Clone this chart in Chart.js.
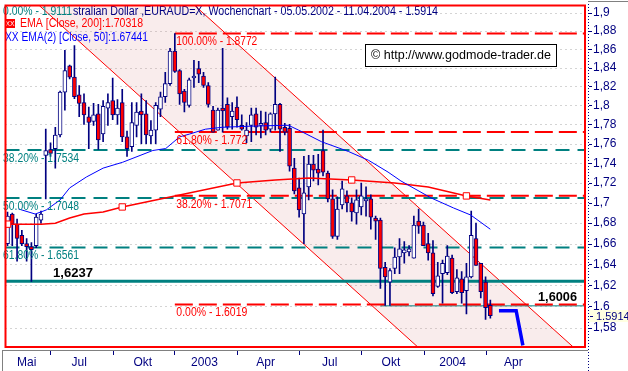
<!DOCTYPE html>
<html>
<head>
<meta charset="utf-8">
<script src="https://cdn.jsdelivr.net/npm/chart.js@4.4.1/dist/chart.umd.min.js"></script>
<style>
  html, body { margin: 0; padding: 0; background: #fff; }
  canvas { display: block; }
</style>
</head>
<body>
<canvas id="chart" width="628" height="371"></canvas>
<script>
// Weekly EUR/AUD candles, 05.05.2002 - 11.04.2004 (x = week number)
const opens = [1.660, 1.689, 1.679, 1.668, 1.660, 1.657, 1.658, 1.683, 1.748, 1.754,
  1.755, 1.769, 1.814, 1.842, 1.830, 1.811, 1.803, 1.788, 1.783, 1.791,
  1.770, 1.797, 1.805, 1.790, 1.803, 1.767, 1.757, 1.779, 1.794, 1.791,
  1.768, 1.774, 1.796, 1.809, 1.823, 1.858, 1.837, 1.815, 1.800, 1.829,
  1.839, 1.831, 1.821, 1.795, 1.774, 1.797, 1.801, 1.788, 1.798, 1.779,
  1.768, 1.779, 1.791, 1.779, 1.782, 1.775, 1.791, 1.801, 1.777, 1.776,
  1.735, 1.715, 1.689, 1.716, 1.739, 1.734, 1.753, 1.730, 1.704, 1.667,
  1.698, 1.707, 1.700, 1.690, 1.696, 1.702, 1.704, 1.685, 1.683, 1.637,
  1.623, 1.636, 1.647, 1.651, 1.652, 1.646, 1.682, 1.678, 1.660, 1.651,
  1.619, 1.631, 1.632, 1.646, 1.614, 1.626, 1.615, 1.628, 1.665, 1.641,
  1.623, 1.601];
const highs = [1.691, 1.690, 1.684, 1.673, 1.665, 1.661, 1.689, 1.692, 1.775, 1.761,
  1.777, 1.815, 1.859, 1.843, 1.864, 1.821, 1.812, 1.798, 1.802, 1.801,
  1.805, 1.812, 1.829, 1.806, 1.817, 1.773, 1.803, 1.803, 1.812, 1.805,
  1.784, 1.803, 1.814, 1.835, 1.861, 1.8772, 1.838, 1.817, 1.829, 1.848,
  1.847, 1.835, 1.824, 1.799, 1.797, 1.861, 1.808, 1.803, 1.809, 1.790,
  1.782, 1.797, 1.797, 1.794, 1.793, 1.792, 1.830, 1.802, 1.781, 1.780,
  1.745, 1.725, 1.747, 1.748, 1.748, 1.749, 1.774, 1.732, 1.713, 1.706,
  1.722, 1.712, 1.705, 1.713, 1.720, 1.716, 1.708, 1.687, 1.685, 1.642,
  1.636, 1.656, 1.665, 1.662, 1.658, 1.687, 1.694, 1.681, 1.670, 1.663,
  1.642, 1.644, 1.658, 1.649, 1.635, 1.633, 1.641, 1.692, 1.680, 1.641,
  1.628, 1.606];
const lows = [1.658, 1.658, 1.643, 1.658, 1.643, 1.6237, 1.656, 1.680, 1.704, 1.747,
  1.735, 1.767, 1.795, 1.828, 1.807, 1.788, 1.780, 1.755, 1.779, 1.754,
  1.762, 1.779, 1.785, 1.780, 1.762, 1.747, 1.752, 1.767, 1.760, 1.760,
  1.760, 1.760, 1.788, 1.803, 1.821, 1.835, 1.801, 1.793, 1.798, 1.819,
  1.824, 1.819, 1.798, 1.772, 1.774, 1.772, 1.775, 1.775, 1.777, 1.774,
  1.761, 1.762, 1.769, 1.766, 1.769, 1.772, 1.774, 1.752, 1.769, 1.732,
  1.709, 1.686, 1.660, 1.703, 1.722, 1.718, 1.727, 1.701, 1.665, 1.664,
  1.694, 1.691, 1.682, 1.679, 1.688, 1.687, 1.674, 1.664, 1.617, 1.601,
  1.601, 1.631, 1.631, 1.641, 1.648, 1.646, 1.670, 1.658, 1.644, 1.610,
  1.618, 1.603, 1.630, 1.612, 1.612, 1.603, 1.593, 1.627, 1.639, 1.608,
  1.588, 1.589];
const closes = [1.687, 1.679, 1.665, 1.660, 1.657, 1.654, 1.686, 1.689, 1.753, 1.750,
  1.769, 1.814, 1.837, 1.830, 1.809, 1.802, 1.790, 1.782, 1.790, 1.764,
  1.799, 1.803, 1.790, 1.797, 1.767, 1.755, 1.782, 1.793, 1.790, 1.769,
  1.774, 1.800, 1.809, 1.823, 1.858, 1.836, 1.812, 1.803, 1.827, 1.831,
  1.833, 1.821, 1.801, 1.772, 1.795, 1.794, 1.777, 1.794, 1.785, 1.775,
  1.774, 1.790, 1.777, 1.781, 1.774, 1.791, 1.801, 1.775, 1.772, 1.737,
  1.712, 1.693, 1.710, 1.739, 1.733, 1.730, 1.731, 1.704, 1.667, 1.694,
  1.714, 1.700, 1.691, 1.703, 1.707, 1.704, 1.686, 1.682, 1.636, 1.628,
  1.634, 1.647, 1.655, 1.654, 1.655, 1.678, 1.677, 1.658, 1.651, 1.612,
  1.629, 1.641, 1.648, 1.613, 1.627, 1.613, 1.628, 1.668, 1.639, 1.614,
  1.599, 1.5914];

// EMA 200 (red, square markers) and EMA 50 (blue)
const ema200Weeks = [0, 7, 10, 13, 16, 20, 24, 35, 48, 56, 63, 72, 81, 88, 96, 101];
const ema200Values = [1.679, 1.679, 1.680, 1.685, 1.689, 1.691, 1.696, 1.707, 1.720, 1.723, 1.725, 1.723, 1.720, 1.716, 1.707, 1.703];
const ema200Marks = [0, 24, 48, 72, 96];
const ema50Weeks = [2.3, 5.8, 8.1, 11, 13, 16.5, 20, 24.1, 30.4, 33.1, 36, 38.1, 41.4, 44.9, 50.1, 57.4, 58.8, 60.9, 65.7, 71.3, 75.5, 79.6, 82.3, 88.6, 93.3, 96.9, 101];
const ema50Values = [1.694, 1.689, 1.693, 1.703, 1.715, 1.726, 1.735, 1.741, 1.753, 1.755, 1.767, 1.770, 1.775, 1.777, 1.778, 1.779, 1.779, 1.774, 1.762, 1.752, 1.743, 1.731, 1.722, 1.705, 1.695, 1.688, 1.674];

// projection arrow (thick blue)
const projWeeks = [102.8, 106.4, 107.8];
const projValues = [1.596, 1.596, 1.564];

// falling trend channel
const channelWeeks = [6, 121];
const channelUpper = [2.075, 1.552];
const channelLower = [1.9114, 1.4297];

// Fibonacci levels
const fibRedStart = 35;
const fibRedValues = [1.8772, 1.772, 1.7071, 1.6019];
const fibRedLabels = ['100.00% - 1.8772', '61.80% - 1.772', '38.20% - 1.7071', '0.00% - 1.6019'];
const fibTealValues = [1.9111, 1.7534, 1.7048, 1.6561];
const fibTealLabels = ['0.00% - 1.9111', '38.20% - 1.7534', '50.00% - 1.7048', '61.80% - 1.6561'];
const supportValue = 1.6237;
const supportLabel = '1,6237';
const lowLineStart = 78;
const lowLineValue = 1.6006;
const lowLineLabel = '1,6006';
const lastClose = 1.5914;

// axes
const yTicks = [1.58, 1.6, 1.62, 1.64, 1.66, 1.68, 1.7, 1.72, 1.74, 1.76, 1.78, 1.8, 1.82, 1.84, 1.86, 1.88, 1.9];
const xLabels = ['Mai', 'Jul', 'Okt', '2003', 'Apr', 'Jul', 'Okt', '2004', 'Apr'];
const xLabelWeeks = [4.0, 15.0, 28.3, 41.2, 54.0, 67.4, 80.2, 93.1, 105.8];
const xTickWeeks = [8.9, 22.0, 34.9, 48.0, 60.9, 74.0, 87.1, 100.0];

const NAVY = '#000080', RED = '#ff0000', TEAL = '#008080', BLUE = '#0000ff';
const FONT = '"Liberation Sans", Arial, sans-serif';
const xMin = -0.42, xMax = 120.8;
const yMin = 1.5625, yMax = 1.9083;

Chart.defaults.font.family = FONT;

function pts(xs, ys) {
    return xs.map((x, i) => ({ x: x, y: ys[i] }));
}

// text squeezed to the width it has in the picture (narrow screen font)
function label(ctx, str, x, y, width, font, color) {
    ctx.save();
    ctx.font = font;
    ctx.fillStyle = color;
    ctx.textBaseline = 'middle';
    ctx.translate(x, y);
    if (width) ctx.scale(width / ctx.measureText(str).width, 1);
    ctx.fillText(str, 0, 0);
    ctx.restore();
}

const weeks = opens.map((_, i) => i);
const datasets = [];

// channel with shaded band
datasets.push({
    type: 'line', data: pts(channelWeeks, channelUpper), borderColor: RED, borderWidth: 1,
    pointRadius: 0, fill: '+1', backgroundColor: 'rgba(220,150,150,0.18)', order: 20
});
datasets.push({
    type: 'line', data: pts(channelWeeks, channelLower), borderColor: RED, borderWidth: 1,
    pointRadius: 0, fill: false, order: 19
});

// horizontal levels
fibTealValues.forEach(v => {
    datasets.push({
        type: 'line', data: pts([xMin, xMax], [v, v]), borderColor: TEAL, borderWidth: 2,
        borderDash: [14, 8], pointRadius: 0, fill: false, order: 11
    });
});
fibRedValues.forEach(v => {
    datasets.push({
        type: 'line', data: pts([fibRedStart, xMax], [v, v]), borderColor: RED, borderWidth: 2,
        borderDash: [18, 6], pointRadius: 0, fill: false, order: 10
    });
});
datasets.push({
    type: 'line', data: pts([lowLineStart, xMax], [lowLineValue, lowLineValue]), borderColor: TEAL,
    borderWidth: 1, pointRadius: 0, fill: false, order: 12
});
datasets.push({
    type: 'line', data: pts([xMin, xMax], [supportValue, supportValue]), borderColor: TEAL,
    borderWidth: 3, pointRadius: 0, fill: false, order: 9
});

// candles: wick + body as floating bars
datasets.push({
    type: 'bar', data: weeks.map(i => ({ x: i, y: [lows[i], highs[i]] })),
    backgroundColor: NAVY, borderWidth: 0, barThickness: 1, grouped: false, order: 6
});
datasets.push({
    type: 'bar',
    data: weeks.map(i => ({ x: i, y: [Math.min(opens[i], closes[i]), Math.max(opens[i], closes[i])] })),
    backgroundColor: ctx => closes[ctx.dataIndex] >= opens[ctx.dataIndex] ? '#ffffff' : RED,
    borderColor: NAVY, borderWidth: 1, borderSkipped: false, barThickness: 4, minBarLength: 2,
    grouped: false, order: 5
});

// moving averages
datasets.push({
    type: 'line', data: pts(ema200Weeks, ema200Values), borderColor: RED, borderWidth: 1.5,
    pointStyle: 'rect',
    pointRadius: ctx => ema200Marks.includes(ema200Weeks[ctx.dataIndex]) ? 4.5 : 0,
    pointBackgroundColor: '#ffffff', pointBorderColor: RED, pointBorderWidth: 1,
    fill: false, order: 3
});
datasets.push({
    type: 'line', data: pts(ema50Weeks, ema50Values), borderColor: BLUE, borderWidth: 1,
    pointRadius: 0, fill: false, order: 2
});
datasets.push({
    type: 'line', data: pts(projWeeks, projValues), borderColor: BLUE, borderWidth: 3.5,
    pointRadius: 0, fill: false, order: 1
});

const decorations = {
    id: 'decorations',
    beforeDatasetsDraw(chart) {
        const { ctx, chartArea: a, scales: { y } } = chart;
        ctx.save();
        ctx.strokeStyle = '#a8a8a8';
        ctx.lineWidth = 1;
        ctx.setLineDash([1, 4]);
        yTicks.forEach(v => {
            const py = Math.round(y.getPixelForValue(v)) + 0.5;
            ctx.beginPath();
            ctx.moveTo(a.left, py);
            ctx.lineTo(a.right, py);
            ctx.stroke();
        });
        ctx.restore();
    },
    afterDraw(chart) {
        const { ctx, chartArea: a, scales: { x, y } } = chart;
        const f11 = '11px ' + FONT, f12 = '12px ' + FONT, b12 = 'bold 12px ' + FONT;

        // level labels
        const redX = x.getPixelForValue(fibRedStart) + 1.5;
        const redWidths = [81, 71, 76, 71];
        fibRedValues.forEach((v, i) => label(ctx, fibRedLabels[i], redX, y.getPixelForValue(v) + 8.5, redWidths[i], f12, RED));
        const tealWidths = [69, 76, 76, 76];
        fibTealValues.forEach((v, i) => {
            const ly = Math.max(y.getPixelForValue(v) + 8.5, 6.5);
            label(ctx, fibTealLabels[i], 3, ly, tealWidths[i], f12, TEAL);
        });
        label(ctx, supportLabel, 53, y.getPixelForValue(supportValue) - 7.5, 40, b12, '#000000');
        label(ctx, lowLineLabel, 538, y.getPixelForValue(lowLineValue) - 8.5, 39, b12, '#000000');

        // title, partly hidden behind the first label
        const title = 'Australian Dollar ,EURAUD=X, Wochenchart - 05.05.2002 - 11.04.2004 - 1.5914';
        ctx.save();
        ctx.font = f12;
        const sx = 365 / ctx.measureText(title.slice(2)).width;
        const tx = 438 - ctx.measureText(title).width * sx;
        ctx.beginPath();
        ctx.rect(73, 0, 520, 20);
        ctx.clip();
        label(ctx, title, tx, 11.5, ctx.measureText(title).width * sx, f12, NAVY);
        ctx.restore();

        // legend
        ctx.fillStyle = RED;
        ctx.fillRect(5, 19, 10, 9);
        label(ctx, 'XX', 5.5, 23.5, 9, '8px ' + FONT, '#ffffff');
        label(ctx, 'EMA [Close, 200]:1.70318', 20, 24, 123, f12, RED);
        label(ctx, 'XX EMA(2) [Close, 50]:1.67441', 5, 38, 143, f12, BLUE);

        // copyright box
        ctx.fillStyle = '#ffffff';
        ctx.fillRect(365, 44, 192, 22);
        ctx.strokeStyle = '#000000';
        ctx.lineWidth = 1;
        ctx.strokeRect(365.5, 44.5, 191, 22);
        label(ctx, '\u00a9 http://www.godmode-trader.de', 371, 55.5, 180, f12, '#000000');

        // plot frame
        ctx.save();
        ctx.strokeStyle = RED;
        ctx.lineWidth = 2;
        ctx.strokeRect(a.left, a.top, a.right - a.left, a.bottom - a.top);
        ctx.restore();

        // right axis: dotted line, tick dashes, price box
        ctx.save();
        ctx.strokeStyle = NAVY;
        ctx.lineWidth = 1;
        ctx.setLineDash([1, 2]);
        ctx.beginPath();
        ctx.moveTo(588.5, 4);
        ctx.lineTo(588.5, 371);
        ctx.stroke();
        ctx.setLineDash([]);
        yTicks.forEach(v => {
            const py = Math.round(y.getPixelForValue(v)) + 0.5;
            ctx.beginPath();
            ctx.moveTo(589, py);
            ctx.lineTo(592, py);
            ctx.stroke();
        });
        ctx.strokeStyle = '#808080';
        ctx.beginPath();
        ctx.moveTo(588, 1.5);
        ctx.lineTo(628, 1.5);
        ctx.stroke();
        const pc = Math.round(y.getPixelForValue(lastClose));
        ctx.fillStyle = '#ffffe1';
        ctx.fillRect(589, pc - 6, 39, 12);
        ctx.strokeStyle = NAVY;
        ctx.beginPath();
        ctx.moveTo(590, pc + 0.5);
        ctx.lineTo(593, pc + 0.5);
        ctx.stroke();
        label(ctx, String(lastClose), 596, pc + 0.5, 0, f11, NAVY);

        // x axis line and quarter ticks
        ctx.strokeStyle = '#808080';
        ctx.beginPath();
        ctx.moveTo(2, 350.5);
        ctx.lineTo(588, 350.5);
        ctx.moveTo(2.5, 350);
        ctx.lineTo(2.5, 371);
        ctx.stroke();
        ctx.strokeStyle = NAVY;
        xTickWeeks.forEach(w => {
            const px = Math.round(x.getPixelForValue(w)) + 0.5;
            ctx.beginPath();
            ctx.moveTo(px, 351);
            ctx.lineTo(px, 355);
            ctx.stroke();
        });
        ctx.restore();
    }
};

new Chart(document.getElementById('chart'), {
    type: 'bar',
    data: { datasets: datasets },
    options: {
        responsive: false,
        animation: false,
        devicePixelRatio: 1,
        layout: { padding: { left: 2, top: 2, right: 0, bottom: 0 } },
        plugins: { legend: { display: false }, tooltip: { enabled: false } },
        scales: {
            x: {
                type: 'linear', min: xMin, max: xMax, offset: false,
                grid: { display: false, drawTicks: false }, border: { display: false },
                afterBuildTicks: s => { s.ticks = xLabelWeeks.map(v => ({ value: v })); },
                afterFit: s => { s.height = 24; s.paddingLeft = 0; s.paddingRight = 0; },
                ticks: {
                    autoSkip: false, maxRotation: 0, padding: 8, color: NAVY,
                    font: { size: 12 }, callback: (v, i) => xLabels[i]
                }
            },
            y: {
                type: 'logarithmic', position: 'right', min: yMin, max: yMax,
                grid: { display: false, drawTicks: false }, border: { display: false },
                afterBuildTicks: s => { s.ticks = yTicks.map(v => ({ value: v })); },
                afterFit: s => { s.width = 43; s.paddingTop = 0; s.paddingBottom = 0; },
                ticks: {
                    padding: 8, color: NAVY, font: { size: 12 },
                    callback: v => String(v).replace('.', ',')
                }
            }
        }
    },
    plugins: [decorations]
});
</script>
</body>
</html>
